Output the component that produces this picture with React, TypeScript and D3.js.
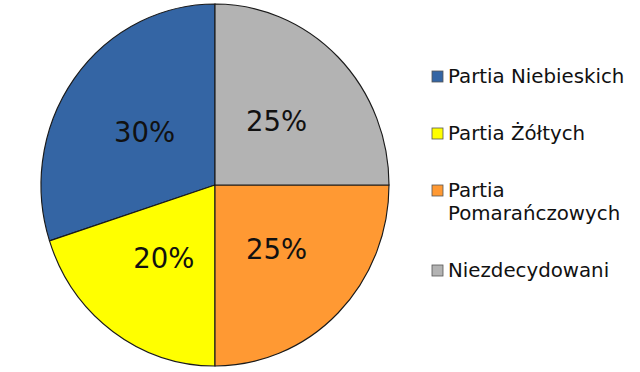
import React from "react";
import * as d3 from "d3";

const categories = ["Partia Niebieskich", "Partia Żółtych", "Partia Pomarańczowych", "Niezdecydowani"];
const legendLines = [["Partia Niebieskich"], ["Partia Żółtych"], ["Partia", "Pomarańczowych"], ["Niezdecydowani"]];
const values = [30, 20, 25, 25];
const colors = ["#3465a4", "#ffff00", "#ff9933", "#b3b3b3"];

export default function App() {
  const width = 640, height = 372;
  const cx = 215, cy = 185, ry = 181, rx = 174;
  const pie = d3.pie<number>().sort(null).startAngle(2 * Math.PI).endAngle(0);
  const arcs = pie(values);
  const arc = d3.arc<d3.PieArcDatum<number>>().innerRadius(0).outerRadius(ry);
  const labelArc = d3.arc<d3.PieArcDatum<number>>().innerRadius(ry * 0.5).outerRadius(ry * 0.5);
  const sx = rx / ry;
  const legendY = [83, 140, 197, 277];
  return (
    <svg width={width} height={height} style={{ position: "absolute", left: 0, top: 0 }}
      fontFamily="DejaVu Sans">
      <rect width={width} height={height} fill="#fff" />
      <g transform={`translate(${cx},${cy}) scale(${sx},1)`}>
        {arcs.map((a, i) => (
          <path key={i} d={arc(a) || ""} fill={colors[i]} stroke="#1a1a1a" strokeWidth={1.2} />
        ))}
      </g>
      {arcs.map((a, i) => {
        const [x, y] = labelArc.centroid(a);
        return (
          <text key={i} x={cx + x * sx} y={cy + y} textAnchor="middle" dominantBaseline="central"
            fontSize={27.5} fill="#111">{values[i]}%</text>
        );
      })}
      {categories.map((c, i) => (
        <g key={c}>
          <rect x={432} y={legendY[i] - 12} width={11} height={11} fill={colors[i]} stroke="#555" strokeWidth={0.8} />
          {legendLines[i].map((l, j) => (
            <text key={j} x={448} y={legendY[i] + j * 23} fontSize={19.8} fill="#111">{l}</text>
          ))}
        </g>
      ))}
    </svg>
  );
}
